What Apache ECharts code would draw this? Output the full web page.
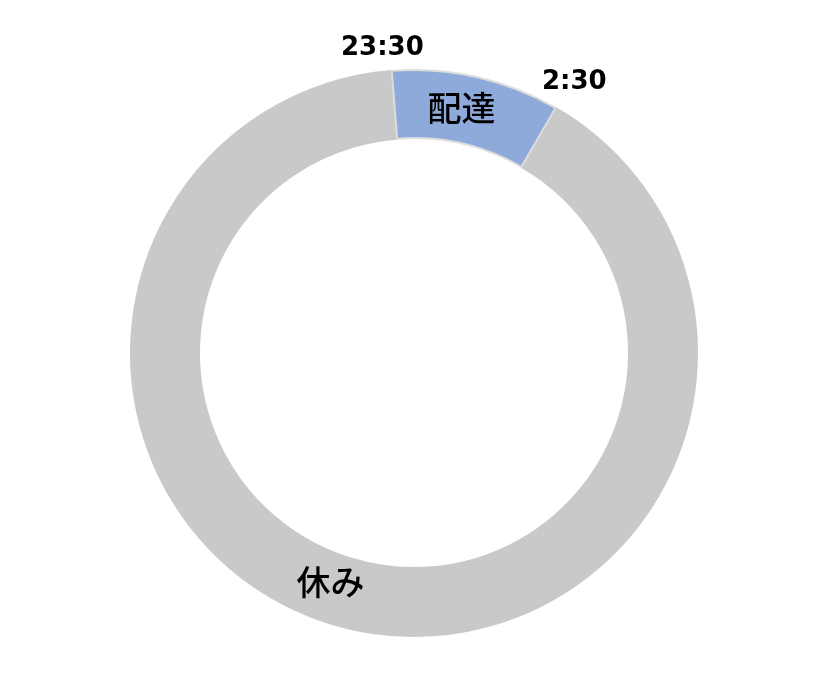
<!DOCTYPE html>
<html>
<head>
<meta charset="utf-8">
<script src="https://cdn.jsdelivr.net/npm/echarts@6/dist/echarts.min.js"></script>
<style>
html,body{margin:0;padding:0;background:#fff;}
#chart{width:826px;height:698px;}
</style>
</head>
<body>
<div id="chart"></div>
<script>
// Data (hours of a 24h day), drawn clockwise starting from 2:30
const categories = ['休み', '配達'];
const hours = [21.7, 2.3];
const colors = ['#c9c9c9', '#8eaadb'];
const timeLabels = ['23:30', '2:30'];

const chart = echarts.init(document.getElementById('chart'), null, {renderer: 'canvas'});

const labelOffsets = [[-28, -17], [-8, 1]];
const borderColors = ['#c9c9c9', '#dcdcdc'];

const option = {
  animation: false,
  backgroundColor: '#ffffff',
  series: [{
    type: 'pie',
    center: [414, 353],
    radius: [215, 283],
    startAngle: 60,
    clockwise: true,
    avoidLabelOverlap: false,
    silent: true,
    label: {
      show: true,
      position: 'inside',
      formatter: '{b}',
      color: '#000',
      fontSize: 34,
      fontFamily: '"Noto Sans CJK JP", sans-serif',
      fontWeight: 500
    },
    labelLine: {show: false},
    data: categories.map((c, i) => ({
      name: c,
      value: hours[i],
      itemStyle: {color: colors[i], borderColor: borderColors[i], borderWidth: 2},
      label: {offset: labelOffsets[i]}
    }))
  }],
  graphic: [
    {type: 'text', left: 341, top: 35, style: {text: timeLabels[0], fill: '#000', font: 'bold 26px "DejaVu Sans"'}},
    {type: 'text', left: 542, top: 69, style: {text: timeLabels[1], fill: '#000', font: 'bold 26px "DejaVu Sans"'}}
  ]
};
chart.setOption(option);
</script>
</body>
</html>
